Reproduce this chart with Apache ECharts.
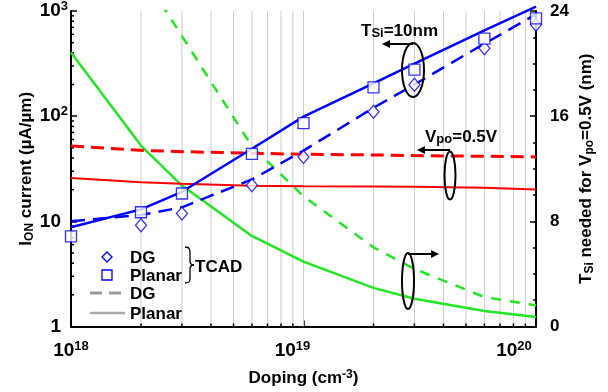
<!DOCTYPE html>
<html><head><meta charset="utf-8">
<script src="https://cdn.jsdelivr.net/npm/echarts@6/dist/echarts.min.js"></script>
<style>html,body{margin:0;padding:0;background:#fff}#c{width:608px;height:392px}</style>
</head><body><div id="c"></div>
<script>
// ---- data ----
const doping = [1e18, 2e18, 3e18, 6e18, 1e19, 2e19, 3e19, 6e19, 1e20];
const ionPlanarModel = [8.8, 13.0, 19.1, 49, 99, 205, 316, 655, 1100];
const ionDGModel = [10.0, 11.5, 13.6, 25, 47, 120, 200, 489, 930];
const planarTcadDoping = [1e18, 2e18, 3e18, 6e18, 1e19, 2e19, 3e19, 6e19, 1e20];
const ionPlanarTCAD = [7.2, 12.2, 18.4, 43.8, 86, 188, 277, 545, 850];
const dgTcadDoping = [2e18, 3e18, 6e18, 1e19, 2e19, 3e19, 6e19, 1e20];
const ionDGTCAD = [9.2, 11.9, 22, 41, 110, 199, 443, 740];
const tsiVpoDG = [13.74, 13.4, 13.3, 13.18, 13.1, 13.05, 13.0, 12.95, 12.9];
const tsiVpoPlanar = [11.3, 10.97, 10.85, 10.7, 10.67, 10.65, 10.63, 10.55, 10.42];
const greenDGDoping = [2e18, 3e18, 6e18, 1e19, 2e19, 3e19, 6e19, 1e20];
const tsiGreenDG = [27.0, 22.09, 13.7, 9.91, 6.02, 4.38, 2.24, 1.61];
const tsiGreenPlanar = [20.85, 13.76, 10.72, 6.89, 4.94, 2.94, 2.11, 1.18, 0.73];
// tick / grid positions
const xGridLines = [2e18, 3e18, 4e18, 5e18, 6e18, 7e18, 8e18, 9e18, 1e19, 2e19, 3e19, 4e19, 5e19, 6e19, 7e19, 8e19, 9e19];
const xMinorTicks = [2e18, 3e18, 4e18, 5e18, 6e18, 7e18, 8e18, 9e18, 2e19, 3e19, 4e19, 5e19, 6e19, 7e19, 8e19, 9e19];
const yMinorTicks = [2, 3, 4, 5, 6, 7, 8, 9, 20, 30, 40, 50, 60, 70, 80, 90, 200, 300, 400, 500, 600, 700, 800, 900];
const rightTicks = [0, 8, 16, 24];

const FONT = '"Liberation Sans", Arial, sans-serif';
const BLUE = '#0000ff', RED = '#ff0000', GREEN = '#22e622';
const zip = (xs, ys) => xs.map((x, i) => [x, ys[i]]);

const chart = echarts.init(document.getElementById('c'), null, {renderer: 'canvas'});

const base = {fontFamily: FONT, fontWeight: 'bold', color: '#000'};
function richLabel(size, supSize) {
  return {
    b: Object.assign({fontSize: size, lineHeight: size + 3}, base),
    bp: Object.assign({fontSize: size, lineHeight: size + 3, padding: [0, 7, 0, 0]}, base),
    s: Object.assign({fontSize: supSize, lineHeight: 10, verticalAlign: 'top'}, base),
    s18: Object.assign({fontSize: supSize, lineHeight: 10, verticalAlign: 'top'}, base),
    s19: Object.assign({fontSize: supSize, lineHeight: 10, verticalAlign: 'top', padding: [0, 22, 0, 0]}, base),
    s20: Object.assign({fontSize: supSize, lineHeight: 10, verticalAlign: 'top', padding: [0, 44, 0, 0]}, base),
    sub: Object.assign({fontSize: supSize, lineHeight: 12, verticalAlign: 'bottom'}, base)
  };
}

function lineEl(x1, y1, x2, y2, extra) {
  return {type: 'line', shape: {x1, y1, x2, y2}, style: Object.assign({stroke: '#000', lineWidth: 2}, extra || {}), silent: true, z: 100};
}
function textEl(x, y, rich, text, extra) {
  return {type: 'text', x, y, silent: true, z: 100,
    style: Object.assign({text, rich, fontFamily: FONT, fontWeight: 'bold', fontSize: 17, fill: '#000', verticalAlign: 'middle', align: 'left'}, extra || {})};
}
const annRich = {
  b: {fontFamily: FONT, fontWeight: 'bold', fontSize: 17, lineHeight: 20, verticalAlign: 'bottom'},
  sub: {fontFamily: FONT, fontWeight: 'bold', fontSize: 13, lineHeight: 14, verticalAlign: 'bottom'}
};

const graphics = [
  // annotation 1: T_Si = 10nm
  textEl(361, 30, annRich, '{b|T}{sub|Si}{b|=10nm}'),
  {type: 'ellipse', shape: {cx: 413, cy: 70, rx: 11, ry: 27}, style: {stroke: '#000', lineWidth: 2, fill: 'none'}, silent: true, z: 100},
  lineEl(413, 44, 389, 44),
  {type: 'polygon', shape: {points: [[382, 44], [390, 40], [390, 48]]}, style: {fill: '#000'}, silent: true, z: 100},
  // annotation 2: Vpo = 0.5V
  textEl(425, 136, annRich, '{b|V}{sub|po}{b|=0.5V}'),
  {type: 'ellipse', shape: {cx: 450, cy: 175.5, rx: 5.5, ry: 24}, style: {stroke: '#000', lineWidth: 2, fill: 'none'}, silent: true, z: 100},
  lineEl(450, 150, 424, 150),
  {type: 'polygon', shape: {points: [[417, 150], [425, 146], [425, 154]]}, style: {fill: '#000'}, silent: true, z: 100},
  // annotation 3: green curves -> right axis
  {type: 'ellipse', shape: {cx: 408, cy: 281, rx: 6, ry: 28}, style: {stroke: '#000', lineWidth: 2, fill: 'none'}, silent: true, z: 100},
  lineEl(408, 254, 432, 254),
  {type: 'polygon', shape: {points: [[439, 254], [431, 250], [431, 258]]}, style: {fill: '#000'}, silent: true, z: 100},
  // legend
  {type: 'polygon', shape: {points: [[107, 252], [112, 257], [107, 262], [102, 257]]}, style: {fill: '#fff', stroke: BLUE, lineWidth: 1.3}, silent: true, z: 100},
  textEl(130, 258, null, 'DG'),
  {type: 'rect', shape: {x: 102, y: 270, width: 10, height: 10}, style: {fill: '#fff', stroke: BLUE, lineWidth: 1.3}, silent: true, z: 100},
  textEl(130, 276, null, 'Planar'),
  {type: 'bezierCurve', shape: {x1: 185, y1: 247, cpx1: 190, cpy1: 247, cpx2: 190, cpy2: 250, x2: 190, y2: 254}, style: {stroke: '#000', lineWidth: 1.3, fill: 'none'}, silent: true, z: 100},
  lineEl(190, 254, 190, 261, {lineWidth: 1.3}),
  {type: 'bezierCurve', shape: {x1: 190, y1: 261, cpx1: 190, cpy1: 264, cpx2: 191, cpy2: 265, x2: 194, y2: 265}, style: {stroke: '#000', lineWidth: 1.3, fill: 'none'}, silent: true, z: 100},
  {type: 'bezierCurve', shape: {x1: 194, y1: 265, cpx1: 191, cpy1: 265, cpx2: 190, cpy2: 266, x2: 190, y2: 269}, style: {stroke: '#000', lineWidth: 1.3, fill: 'none'}, silent: true, z: 100},
  lineEl(190, 269, 190, 277, {lineWidth: 1.3}),
  {type: 'bezierCurve', shape: {x1: 190, y1: 277, cpx1: 190, cpy1: 281, cpx2: 190, cpy2: 283, x2: 185, y2: 283}, style: {stroke: '#000', lineWidth: 1.3, fill: 'none'}, silent: true, z: 100},
  textEl(195, 267, null, 'TCAD'),
  lineEl(90, 293, 125, 293, {stroke: '#999', lineWidth: 3, lineDash: [12, 7]}),
  textEl(130, 294, null, 'DG'),
  lineEl(90, 313, 125, 313, {stroke: '#aaa', lineWidth: 2.5}),
  textEl(130, 314, null, 'Planar')
];

function customLines(data, yAxisIndex, fn) {
  return {
    type: 'custom', xAxisIndex: 0, yAxisIndex, silent: true, z: 1, clip: false,
    data, renderItem: (params, api) => fn(api)
  };
}

const option = {
  animation: false,
  backgroundColor: '#fff',
  grid: {left: 71, right: 72, top: 10, bottom: 64},
  xAxis: {
    type: 'log', logBase: 10, min: 1e18, max: 1e20,
    name: '{b|Doping (cm}{s|-3}{b|)}', nameLocation: 'middle', nameGap: 42, nameMoveOverlap: false,
    nameTextStyle: {rich: richLabel(17, 12)},
    axisLine: {show: true, onZero: false, lineStyle: {color: '#000', width: 2}},
    axisTick: {show: true, inside: true, length: 6, lineStyle: {color: '#000', width: 1.5}},
    splitLine: {show: false},
    axisLabel: {
      margin: 13,
      formatter: v => { const e = Math.round(Math.log10(v)); return '{b|10}{s' + e + '|' + e + '}'; },
      rich: richLabel(19, 13)
    }
  },
  yAxis: [
    {
      type: 'log', logBase: 10, min: 1, max: 1000, position: 'left',
      name: '{b|I}{sub|ON}{b| current (µA/µm)}', nameLocation: 'middle', nameGap: 35, nameRotate: 90, nameMoveOverlap: false,
      nameTextStyle: {rich: richLabel(17, 12)},
      axisLine: {show: true, lineStyle: {color: '#000', width: 2}},
      axisTick: {show: true, inside: true, length: 6, lineStyle: {color: '#000', width: 1.5}},
      splitLine: {show: false},
      axisLabel: {
        margin: 3,
        formatter: v => { const e = Math.round(Math.log10(v)); if (e === 0) return '{bp|1}'; if (e === 1) return '{bp|10}'; return '{b|10}{s|' + e + '}'; },
        rich: richLabel(19, 13)
      }
    },
    {
      type: 'value', min: rightTicks[0], max: rightTicks[rightTicks.length - 1], interval: rightTicks[1] - rightTicks[0], position: 'right',
      name: '{b|T}{sub|Si}{b| needed for V}{sub|po}{b|=0.5V (nm)}', nameLocation: 'middle', nameGap: 40, nameRotate: 90, nameMoveOverlap: false,
      nameTextStyle: {rich: richLabel(17, 12)},
      axisLine: {show: true, lineStyle: {color: '#000', width: 2}},
      axisTick: {show: true, inside: true, length: 6, lineStyle: {color: '#000', width: 1.5}},
      minorTick: {show: true, splitNumber: 4, length: 3, lineStyle: {color: '#000', width: 1.5}},
      splitLine: {show: false}, minorSplitLine: {show: false},
      axisLabel: {margin: 14, fontFamily: FONT, fontWeight: 'bold', fontSize: 17, color: '#000'}
    }
  ],
  graphic: graphics,
  series: [
    customLines(xGridLines.map(v => [v, 1]), 0, api => {
      const x = api.value(0); const a = api.coord([x, 1]); const b = api.coord([x, 1000]);
      return {type: 'line', shape: {x1: a[0], y1: a[1], x2: b[0], y2: b[1]}, style: {stroke: '#cccccc', lineWidth: 1}};
    }),
    customLines(xMinorTicks.map(v => [v, 1]), 0, api => {
      const x = api.value(0); const a = api.coord([x, 1]);
      return {type: 'line', z2: 50, shape: {x1: a[0], y1: a[1], x2: a[0], y2: a[1] - 3}, style: {stroke: '#000', lineWidth: 1.5}};
    }),
    customLines(yMinorTicks.map(v => [1e18, v]), 0, api => {
      const a = api.coord([1e18, api.value(1)]);
      return {type: 'line', z2: 50, shape: {x1: a[0], y1: a[1], x2: a[0] + 3, y2: a[1]}, style: {stroke: '#000', lineWidth: 1.5}};
    }),
    {type: 'line', name: 'Tsi DG green', yAxisIndex: 1, data: zip(greenDGDoping, tsiGreenDG), symbol: 'none', z: 3,
      lineStyle: {color: GREEN, width: 2.5, type: [10, 9]}},
    {type: 'line', name: 'Tsi Planar green', yAxisIndex: 1, data: zip(doping, tsiGreenPlanar), symbol: 'none', z: 3,
      lineStyle: {color: GREEN, width: 2.5}},
    {type: 'line', name: 'Tsi Vpo DG', yAxisIndex: 1, data: zip(doping, tsiVpoDG), symbol: 'none', z: 3,
      lineStyle: {color: RED, width: 3, type: [13, 7]}},
    {type: 'line', name: 'Tsi Vpo Planar', yAxisIndex: 1, data: zip(doping, tsiVpoPlanar), symbol: 'none', z: 3,
      lineStyle: {color: RED, width: 2}},
    {type: 'line', name: 'Ion DG', yAxisIndex: 0, data: zip(doping, ionDGModel), symbol: 'none', z: 4,
      lineStyle: {color: BLUE, width: 2.5, type: [14, 8]}},
    {type: 'line', name: 'Ion Planar', yAxisIndex: 0, data: zip(doping, ionPlanarModel), symbol: 'none', z: 4, clip: false,
      lineStyle: {color: BLUE, width: 2.5}},
    {type: 'scatter', name: 'DG TCAD', yAxisIndex: 0, data: zip(dgTcadDoping, ionDGTCAD), symbol: 'diamond', symbolSize: [11, 13], z: 5, clip: false,
      itemStyle: {color: '#fff', borderColor: BLUE, borderWidth: 1.3}},
    {type: 'scatter', name: 'Planar TCAD', yAxisIndex: 0, data: zip(planarTcadDoping, ionPlanarTCAD), symbol: 'rect', symbolSize: 11, z: 5, clip: false,
      itemStyle: {color: '#fff', borderColor: BLUE, borderWidth: 1.3}}
  ]
};
chart.setOption(option);
</script>
</body></html>
